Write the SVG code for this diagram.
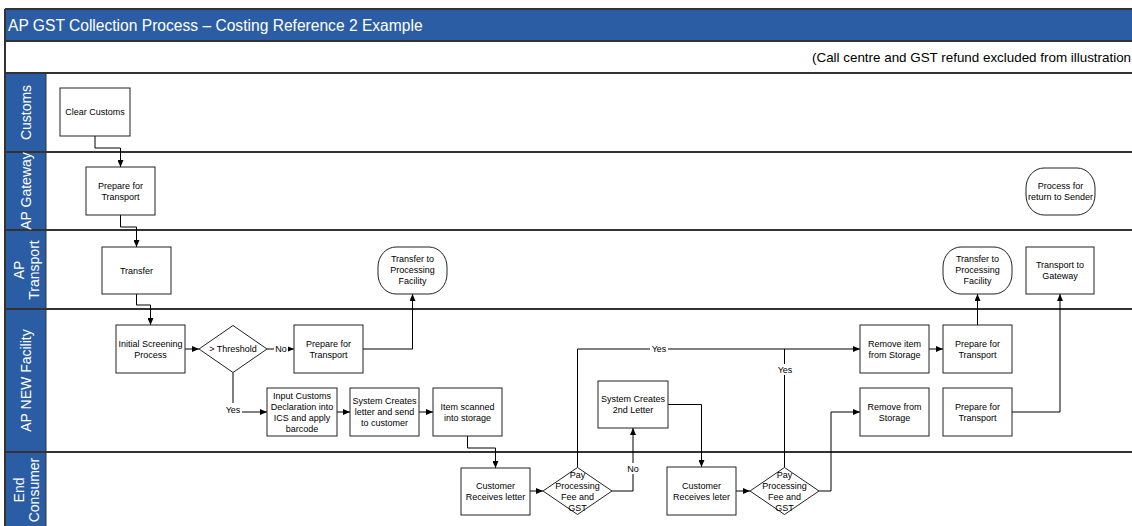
<svg xmlns="http://www.w3.org/2000/svg" width="1132" height="526" viewBox="0 0 1132 526">
<defs>
<marker id="arr" markerWidth="7" markerHeight="6" refX="7" refY="3" orient="auto" markerUnits="userSpaceOnUse">
<path d="M0,0 L7,3 L0,6 Z" fill="#000"/>
</marker>
<style>
.box{fill:#fff;stroke:#222;stroke-width:1}
.t{font-family:"Liberation Sans",Arial,sans-serif;font-size:9px;fill:#000;text-anchor:middle}
.lane{font-family:"Liberation Sans",Arial,sans-serif;font-size:14px;fill:#fff;text-anchor:middle}
.sep{stroke:#333;stroke-width:2;fill:none}
.c{fill:none;stroke:#000;stroke-width:1}
.ca{fill:none;stroke:#000;stroke-width:1;marker-end:url(#arr)}
.lbl{fill:#fff}
</style>
</defs>
<rect x="0" y="0" width="1132" height="526" fill="#fff"/>
<g id="frame">
<rect x="5" y="9" width="1140" height="32" fill="#2B5DA5"/>
<text x="8" y="30.5" font-family="'Liberation Sans',Arial,sans-serif" font-size="15.6" fill="#fff">AP GST Collection Process – Costing Reference 2 Example</text>
<text x="812" y="62" font-family="'Liberation Sans',Arial,sans-serif" font-size="13.4" fill="#000">(Call centre and GST refund excluded from illustration</text>
<rect x="5" y="73" width="41" height="460" fill="#2B5DA5"/>
<line class="sep" x1="5" y1="9" x2="1140" y2="9"/>
<line class="sep" x1="5" y1="41" x2="1140" y2="41"/>
<line class="sep" x1="5" y1="73" x2="1140" y2="73"/>
<line class="sep" x1="5" y1="152" x2="1140" y2="152"/>
<line class="sep" x1="5" y1="230" x2="1140" y2="230"/>
<line class="sep" x1="5" y1="309" x2="1140" y2="309"/>
<line class="sep" x1="5" y1="452" x2="1140" y2="452"/>
<line class="sep" x1="5" y1="9" x2="5" y2="530"/>
<line x1="46" y1="73" x2="46" y2="530" stroke="#333" stroke-width="1"/>
</g>
<g id="lanes">
<text class="lane" transform="translate(25.5,112.5) rotate(-90)" dy="5">Customs</text>
<text class="lane" transform="translate(25.5,191) rotate(-90)" dy="5">AP Gateway</text>
<text class="lane" transform="translate(26,270) rotate(-90)"><tspan x="0" dy="-2">AP</tspan><tspan x="0" dy="15">Transport</tspan></text>
<text class="lane" transform="translate(25.5,380.5) rotate(-90)" dy="5">AP NEW Facility</text>
<text class="lane" transform="translate(26,490) rotate(-90)"><tspan x="0" dy="-2">End</tspan><tspan x="0" dy="15">Consumer</tspan></text>
</g>
<g id="connectors">
<path class="ca" d="M95,136 V148 H120.5 V167"/>
<path class="ca" d="M120.5,215 V227 H136.5 V247"/>
<path class="ca" d="M136.5,294 V305 H150.5 V325"/>
<path class="ca" d="M185,349 H199"/>
<path class="ca" d="M267,349 H294"/>
<path class="ca" d="M363,349 H412.5 V294"/>
<path class="ca" d="M233,372.5 V412 H267"/>
<path class="ca" d="M337,412 H350"/>
<path class="ca" d="M419,412 H433"/>
<path class="ca" d="M467.5,436 V448 H495.5 V468"/>
<path class="ca" d="M530,491 H543"/>
<path class="ca" d="M577.5,467.5 V349 H860"/>
<path class="ca" d="M612,491 H633 V428"/>
<path class="ca" d="M668,404.5 H701.5 V467"/>
<path class="ca" d="M736,491 H750"/>
<path class="c" d="M784.5,467.5 V349"/>
<path class="ca" d="M819,491 H831 V412 H860"/>
<path class="ca" d="M929,349 H943"/>
<path class="ca" d="M977.5,325 V294"/>
<path class="ca" d="M1012,412 H1060 V294"/>
<rect class="lbl" x="274" y="343" width="14" height="11"/>
<text class="t" x="281" y="352">No</text>
<rect class="lbl" x="224" y="403" width="18" height="11"/>
<text class="t" x="233" y="413">Yes</text>
<rect class="lbl" x="650" y="343" width="18" height="11"/>
<text class="t" x="659" y="352">Yes</text>
<rect class="lbl" x="776" y="364" width="18" height="11"/>
<text class="t" x="785" y="373">Yes</text>
<rect class="lbl" x="626" y="463" width="14" height="11"/>
<text class="t" x="633" y="472">No</text>
</g>
<g id="clear-customs"><rect class="box" x="60" y="88" width="70" height="48"/><text class="t" x="95" y="115">Clear Customs</text></g>
<g id="gw-prepare"><rect class="box" x="86" y="167" width="69" height="48"/><text class="t" x="120.5" y="188.5">Prepare for</text><text class="t" x="120.5" y="199.5">Transport</text></g>
<g id="transfer"><rect class="box" x="102" y="247" width="69" height="47"/><text class="t" x="136.5" y="273.5">Transfer</text></g>
<g id="term-transfer-1"><rect class="box" x="378" y="247" width="69" height="47" rx="18" ry="20"/><text class="t" x="412.5" y="262">Transfer to</text><text class="t" x="412.5" y="273">Processing</text><text class="t" x="412.5" y="284">Facility</text></g>
<g id="initial-screening"><rect class="box" x="116" y="325" width="69" height="48"/><text class="t" x="150.5" y="346.5">Initial Screening</text><text class="t" x="150.5" y="357.5">Process</text></g>
<g id="threshold"><polygon class="box" points="199,349 233,325.5 267,349 233,372.5"/><text class="t" x="233" y="352">&gt; Threshold</text></g>
<g id="fac-prepare"><rect class="box" x="294" y="325" width="69" height="48"/><text class="t" x="328.5" y="346.5">Prepare for</text><text class="t" x="328.5" y="357.5">Transport</text></g>
<g id="input-customs"><rect class="box" x="267" y="388" width="70" height="48"/><text class="t" x="302" y="398.5">Input Customs</text><text class="t" x="302" y="409.5">Declaration into</text><text class="t" x="302" y="420.5">ICS and apply</text><text class="t" x="302" y="431.5">barcode</text></g>
<g id="system-letter"><rect class="box" x="350" y="388" width="69" height="48"/><text class="t" x="384.5" y="404">System Creates</text><text class="t" x="384.5" y="415">letter and send</text><text class="t" x="384.5" y="426">to customer</text></g>
<g id="item-scanned"><rect class="box" x="433" y="388" width="69" height="48"/><text class="t" x="467.5" y="409.5">Item scanned</text><text class="t" x="467.5" y="420.5">into storage</text></g>
<g id="customer-1"><rect class="box" x="461" y="468" width="69" height="47"/><text class="t" x="495.5" y="489">Customer</text><text class="t" x="495.5" y="500">Receives letter</text></g>
<g id="pay-1"><polygon class="box" points="543,491 577.5,467.5 612,491 577.5,514.5"/><text class="t" x="577.5" y="477.5">Pay</text><text class="t" x="577.5" y="488.5">Processing</text><text class="t" x="577.5" y="499.5">Fee and</text><text class="t" x="577.5" y="510.5">GST</text></g>
<g id="second-letter"><rect class="box" x="598" y="381" width="70" height="47"/><text class="t" x="633" y="402">System Creates</text><text class="t" x="633" y="413">2nd Letter</text></g>
<g id="customer-2"><rect class="box" x="667" y="467" width="69" height="48"/><text class="t" x="701.5" y="488.5">Customer</text><text class="t" x="701.5" y="499.5">Receives leter</text></g>
<g id="pay-2"><polygon class="box" points="750,491 784.5,467.5 819,491 784.5,514.5"/><text class="t" x="784.5" y="477.5">Pay</text><text class="t" x="784.5" y="488.5">Processing</text><text class="t" x="784.5" y="499.5">Fee and</text><text class="t" x="784.5" y="510.5">GST</text></g>
<g id="remove-item"><rect class="box" x="860" y="325" width="69" height="48"/><text class="t" x="894.5" y="346.5">Remove item</text><text class="t" x="894.5" y="357.5">from Storage</text></g>
<g id="prepare-r1"><rect class="box" x="943" y="325" width="69" height="48"/><text class="t" x="977.5" y="346.5">Prepare for</text><text class="t" x="977.5" y="357.5">Transport</text></g>
<g id="remove-storage"><rect class="box" x="860" y="388" width="69" height="48"/><text class="t" x="894.5" y="409.5">Remove from</text><text class="t" x="894.5" y="420.5">Storage</text></g>
<g id="prepare-r2"><rect class="box" x="943" y="388" width="69" height="48"/><text class="t" x="977.5" y="409.5">Prepare for</text><text class="t" x="977.5" y="420.5">Transport</text></g>
<g id="term-transfer-2"><rect class="box" x="943" y="247" width="69" height="47" rx="18" ry="20"/><text class="t" x="977.5" y="262">Transfer to</text><text class="t" x="977.5" y="273">Processing</text><text class="t" x="977.5" y="284">Facility</text></g>
<g id="transport-gateway"><rect class="box" x="1026" y="247" width="68" height="47"/><text class="t" x="1060" y="268">Transport to</text><text class="t" x="1060" y="279">Gateway</text></g>
<g id="return-sender"><rect class="box" x="1026" y="168" width="69" height="47" rx="18" ry="20"/><text class="t" x="1060.5" y="188.5">Process for</text><text class="t" x="1060.5" y="199.5">return to Sender</text></g>
</svg>
